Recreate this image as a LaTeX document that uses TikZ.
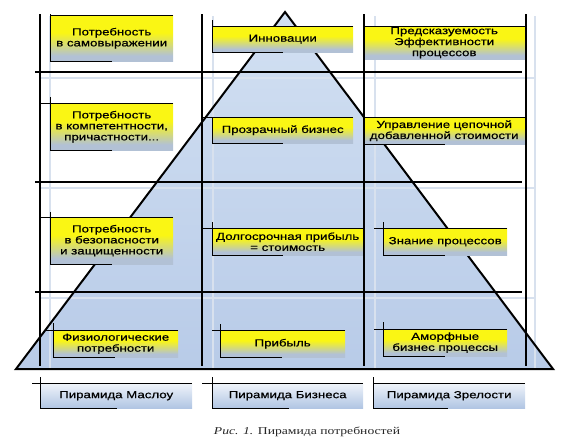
\documentclass[tikz,border=0pt]{standalone}
\usepackage{fontspec}
\setmainfont{Liberation Sans}
\newfontfamily\boxfont[FakeStretch=1.3,FakeBold=0.6]{Liberation Sans}
\newfontfamily\capfont[FakeStretch=1.3]{Liberation Serif}
\definecolor{ytop}{RGB}{250,246,20}
\definecolor{ybot}{RGB}{178,193,213}
\definecolor{ltop}{RGB}{240,244,250}
\definecolor{lbot}{RGB}{176,197,227}
\definecolor{ptop}{RGB}{210,224,242}
\definecolor{pbot}{RGB}{184,203,232}
\definecolor{faint}{RGB}{216,225,238}
\pgfdeclareverticalshading{yshade}{100bp}{color(0bp)=(ybot); color(25bp)=(ybot); color(31bp)=(ybot); color(43bp)=(ybot!50!ytop); color(56bp)=(ytop); color(100bp)=(ytop)}
\newcommand\brk[4]{%
  \draw[brk] ([xshift=-#2pt]#1.north west) -- (#1.north east);
  \draw[brk] ([yshift=#3pt]#1.north west) -- (#1.south west) -- ++(#4,0);}
\begin{document}
\begin{tikzpicture}[x=1pt,y=-1pt,
  ybox/.style={anchor=north west, inner sep=0pt, shade, shading=yshade,
    font=\boxfont\fontsize{10.2}{11}\selectfont, align=center, text=black},
  lbox/.style={anchor=north west, inner sep=0pt, top color=ltop, bottom color=lbot,
    font=\boxfont\fontsize{10.2}{11}\selectfont, align=center, text=black},
  gridline/.style={line width=2pt, black},
  brk/.style={line width=1pt, black},
  faintline/.style={line width=1.5pt, faint}]
\useasboundingbox (0,0) rectangle (572,447);
% pyramid fill
\coordinate (apex) at (285,12);
\coordinate (bl) at (16,369);
\coordinate (br) at (553,369);
\shade[top color=ptop, bottom color=pbot] (apex) -- (bl) -- (br) -- cycle;
% faint shadow lines
\foreach \x in {50,213,375,535} \draw[faintline] (\x,16) -- (\x,368);
\foreach \y in {78,188,298} \draw[faintline] (40,\y) -- (535,\y);
% pyramid outline
\draw[line width=2pt, line join=miter] (apex) -- (bl) -- (br) -- cycle;
% boxes
\node[ybox, minimum width=123pt, minimum height=46pt] (b1) at (50,15) {Потребность\\в самовыражении};
\node[ybox, minimum width=141pt, minimum height=26pt] (b2) at (212,26) {Инновации};
\node[ybox, minimum width=162pt, minimum height=33pt] (b3) at (363,26) {Предсказуемость\\Эффективности\\процессов};
\node[ybox, minimum width=123pt, minimum height=47pt] (b4) at (50,103) {Потребность\\в компетентности,\\причастности...};
\node[ybox, minimum width=141pt, minimum height=26pt] (b5) at (212,117) {Прозрачный бизнес};
\node[ybox, minimum width=162pt, minimum height=27pt] (b6) at (363,117) {Управление цепочной\\добавленной стоимости};
\node[ybox, minimum width=123pt, minimum height=47pt] (b7) at (50,217) {Потребность\\в безопасности\\и защищенности};
\node[ybox, minimum width=151pt, minimum height=27pt] (b8) at (212,228) {Долгосрочная прибыль\\= стоимость};
\node[ybox, minimum width=124pt, minimum height=27pt] (b9) at (383,228) {Знание процессов};
\node[ybox, minimum width=125pt, minimum height=27pt] (b10) at (53,330) {Физиологические\\потребности};
\node[ybox, minimum width=125pt, minimum height=27pt] (b11) at (220,330) {Прибыль};
\node[ybox, minimum width=124pt, minimum height=27pt] (b12) at (383,329) {Аморфные\\бизнес процессы};
% label boxes
\node[lbox, minimum width=152pt, minimum height=25pt] (l1) at (40,383) {Пирамида Маслоу};
\node[lbox, minimum width=151pt, minimum height=25pt] (l2) at (212,383) {Пирамида Бизнеса};
\node[lbox, minimum width=152pt, minimum height=25pt] (l3) at (373,383) {Пирамида Зрелости};
% brackets
\brk{b1}{0}{1}{62}
\brk{b2}{0}{6}{71}
\brk{b3}{0}{0}{0}
\brk{b4}{10}{6}{62}
\brk{b5}{10}{0}{71}
\brk{b6}{0}{0}{82}
\brk{b7}{10}{5}{62}
\brk{b8}{10}{6}{71}
\brk{b9}{9}{6}{62}
\brk{b10}{8}{7}{62}
\brk{b11}{8}{6}{62}
\brk{b12}{9}{7}{62}
\brk{l1}{8}{6}{77}
\brk{l2}{10}{6}{77}
\brk{l3}{0}{6}{75}
% grid
\foreach \x in {40,202,364,526} \draw[gridline] (\x,14) -- (\x,366);
\foreach \y in {72,182,292} \draw[gridline] (35,\y) -- (522,\y);
% caption
\node[font=\capfont\fontsize{10.5}{12}\selectfont, text=black!85] (cap) at (307,432) {\textit{Рис. 1.} Пирамида потребностей};
\end{tikzpicture}
\end{document}
